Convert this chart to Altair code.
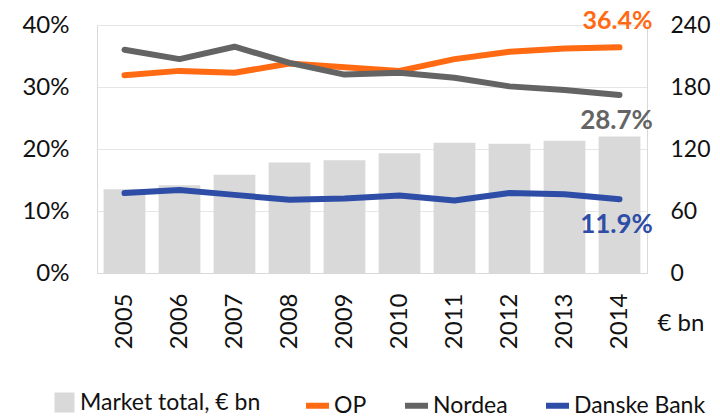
import altair as alt
import pandas as pd

years = ["2005", "2006", "2007", "2008", "2009", "2010", "2011", "2012", "2013", "2014"]
market_total = [81, 85, 95, 107, 109, 116, 126, 125, 128, 132]
op_share = [31.9, 32.6, 32.3, 33.8, 33.2, 32.6, 34.5, 35.7, 36.2, 36.4]
nordea_share = [36.0, 34.5, 36.5, 33.9, 32.0, 32.3, 31.5, 30.1, 29.5, 28.7]
danske_share = [12.9, 13.4, 12.6, 11.8, 12.0, 12.5, 11.7, 12.9, 12.7, 11.9]

bar_name = "Market total, € bn"
series_names = ["OP", "Nordea", "Danske Bank"]
series_colors = ["#FF6A13", "#646464", "#2E4DA7"]
bar_color = "#D9D9D9"

left_ticks = [0, 10, 20, 30, 40]
right_ticks = [0, 60, 120, 180, 240]

FONT = "Lato"
FS = 24

bars_df = pd.DataFrame({"year": years, "market": market_total, "series": bar_name})
lines_df = pd.DataFrame({
    "year": years * 3,
    "share": op_share + nordea_share + danske_share,
    "series": [s for s in series_names for _ in years],
})

x_enc = alt.X(
    "year:N",
    scale=alt.Scale(paddingInner=0.24, paddingOuter=0.12),
    axis=alt.Axis(
        title="€ bn", labelAngle=-90, labelAlign="right", labelBaseline="middle",
        labelPadding=20, labelFontSize=FS, labelFont=FONT, labelColor="#111",
        ticks=False, domainColor="#D9D9D9",
        titleFont=FONT, titleFontSize=FS, titleFontWeight="normal", titleColor="#111",
        titleAngle=0, titleAlign="left", titleBaseline="middle", titleX=560, titleY=50,
    ),
)

bars = alt.Chart(bars_df).mark_bar(color=bar_color).encode(
    x=x_enc,
    y=alt.Y(
        "market:Q",
        scale=alt.Scale(domain=[0, 240]),
        axis=alt.Axis(
            orient="right", values=right_ticks, grid=False, ticks=False, title=None,
            labelPadding=23, labelFontSize=23, labelFont=FONT, labelColor="#111",
            domainColor="#D9D9D9",
        ),
    ),
    color=alt.Color(
        "series:N",
        scale=alt.Scale(domain=[bar_name], range=[bar_color]),
        legend=alt.Legend(
            orient="none", legendX=-44, legendY=366, title=None, symbolType="square",
            symbolSize=400, symbolStrokeWidth=0, labelFontSize=23, labelFont=FONT,
            labelColor="#111", labelOffset=4, padding=0, labelLimit=0,
        ),
    ),
)

y_share = alt.Y(
    "share:Q",
    scale=alt.Scale(domain=[0, 40]),
    axis=alt.Axis(
        orient="left", values=left_ticks, labelExpr="datum.value + '%'", title=None,
        ticks=False, labelPadding=28, labelFontSize=FS, labelFont=FONT, labelColor="#111",
        grid=True, gridColor="#E6E6E6", domainColor="#D9D9D9",
    ),
)

color_lines = alt.Color(
    "series:N",
    scale=alt.Scale(domain=series_names, range=series_colors),
    legend=alt.Legend(
        orient="none", legendX=206, legendY=366, title=None, direction="horizontal",
        symbolType="stroke", symbolSize=529, symbolStrokeWidth=6, labelFontSize=23,
        labelFont=FONT, labelColor="#111", labelOffset=2, columnPadding=26, padding=0,
        labelLimit=0,
    ),
)

lines = alt.Chart(lines_df).mark_line(strokeWidth=6, strokeCap="round", strokeJoin="round").encode(
    x=x_enc, y=y_share, color=color_lines, order=alt.Order("year:N")
)

label_color = alt.Color("series:N", scale=alt.Scale(domain=series_names, range=series_colors), legend=None)

label_op = alt.Chart(lines_df).transform_filter(
    (alt.datum.year == years[-1]) & (alt.datum.series == "OP")
).transform_calculate(lbl="format(datum.share, '.1f') + '%'").mark_text(
    font=FONT, fontSize=25, fontWeight="bold", dy=-26, dx=-2
).encode(x=x_enc, y=y_share, color=label_color, text="lbl:N")

label_rest = alt.Chart(lines_df).transform_filter(
    (alt.datum.year == years[-1]) & (alt.datum.series != "OP")
).transform_calculate(lbl="format(datum.share, '.1f') + '%'").mark_text(
    font=FONT, fontSize=26, fontWeight="bold", dy=26, dx=-3
).encode(x=x_enc, y=y_share, color=label_color, text="lbl:N")

chart = alt.layer(
    bars,
    alt.layer(lines, label_op, label_rest),
).resolve_scale(y="independent", color="independent").resolve_legend(color="independent").properties(
    width=550, height=248, autosize="none",
    padding={"left": 89, "top": 17, "right": 65, "bottom": 144},
).configure_view(stroke=None)

chart.save("out.html", embed_options={"renderer": "svg", "actions": False})
